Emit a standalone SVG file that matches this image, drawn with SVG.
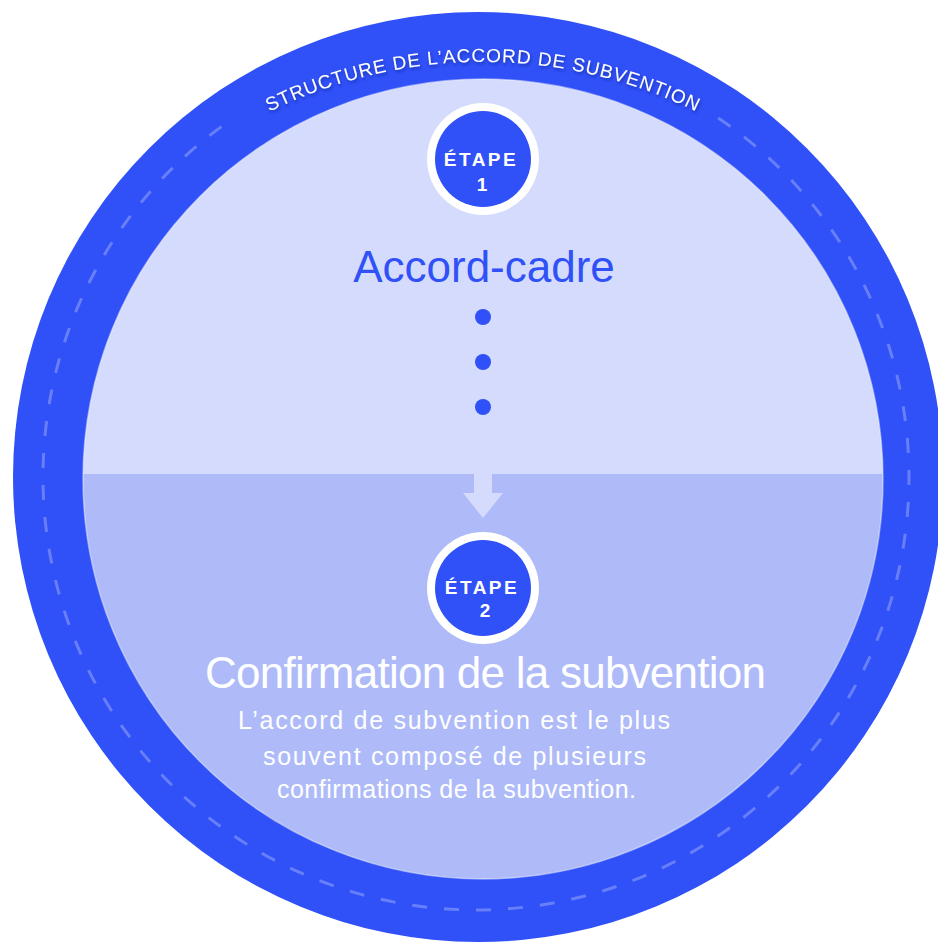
<svg xmlns="http://www.w3.org/2000/svg" width="938" height="946" viewBox="0 0 938 946">
<defs>
<clipPath id="innerClip"><circle cx="483" cy="479" r="400"/></clipPath>
<path id="titleArc" d="M 172.5 175 A 483 483 0 0 1 793.5 175" fill="none"/>
<filter id="shadow" x="-10%" y="-50%" width="120%" height="200%">
<feDropShadow dx="1" dy="2" stdDeviation="1.5" flood-color="#101c70" flood-opacity="0.55"/>
</filter>
</defs>
<style>
.ring{fill:#3050F8;}
.stepRing{fill:#ffffff;}
.stepCore{fill:#3050F8;}
.stepLbl{font-family:"Liberation Sans",Arial,sans-serif;font-weight:bold;fill:#ffffff;font-size:19px;letter-spacing:2.5px;}
.stepNum{font-family:"Liberation Sans",Arial,sans-serif;font-weight:bold;fill:#ffffff;font-size:19px;}
.title1{font-family:"Liberation Sans",Arial,sans-serif;fill:#3050F8;font-size:44px;}
.title2{font-family:"Liberation Sans",Arial,sans-serif;fill:#ffffff;font-size:44px;}
.body{font-family:"Liberation Sans",Arial,sans-serif;fill:#ffffff;font-size:25px;}
.arcTitle{font-family:"Liberation Sans",Arial,sans-serif;fill:#ffffff;font-size:19px;letter-spacing:0.9px;}
.dot{fill:#3050F8;}
</style>

<g id="background">
<circle class="ring" cx="478" cy="477" r="465"/>
<path d="M 718.2 118 A 433 433 0 1 1 233.8 118" fill="none" stroke="#ffffff" stroke-opacity="0.27" stroke-width="3" stroke-dasharray="15 17"/>
<g clip-path="url(#innerClip)">
<rect x="80" y="75" width="810" height="399" fill="#D5DBFC"/>
<rect x="80" y="474" width="810" height="410" fill="#AEBBF8"/>
</g>
<circle cx="483" cy="479" r="400" fill="none" stroke="#ffffff" stroke-opacity="0.45" stroke-width="1.5"/>
<text class="arcTitle" filter="url(#shadow)"><textPath href="#titleArc" startOffset="50%" text-anchor="middle">STRUCTURE DE L’ACCORD DE SUBVENTION</textPath></text>
</g>

<g id="connectors">
<polygon points="474,474 492,474 492,493 503,493 483,518 463,493 474,493" fill="#D5DBFC"/>
</g>

<g id="step1">
<circle class="stepRing" cx="483" cy="159" r="56"/>
<circle class="stepCore" cx="483" cy="159" r="48"/>
<text class="stepLbl" x="481" y="166" text-anchor="middle">ÉTAPE</text>
<text class="stepNum" x="482" y="191" text-anchor="middle">1</text>
</g>

<g id="accord-cadre">
<text class="title1" x="484" y="282" text-anchor="middle">Accord-cadre</text>
<circle class="dot" cx="483" cy="317" r="8"/>
<circle class="dot" cx="483" cy="362" r="8"/>
<circle class="dot" cx="483" cy="407" r="8"/>
</g>

<g id="step2">
<circle class="stepRing" cx="483" cy="588" r="56"/>
<circle class="stepCore" cx="483" cy="588" r="48"/>
<text class="stepLbl" x="482" y="594" text-anchor="middle">ÉTAPE</text>
<text class="stepNum" x="485" y="617" text-anchor="middle">2</text>
</g>

<g id="confirmation">
<text class="title2" x="485.5" y="688" text-anchor="middle" textLength="561" lengthAdjust="spacing">Confirmation de la subvention</text>
<text class="body" x="454" y="729" text-anchor="middle" textLength="432" lengthAdjust="spacing">L’accord de subvention est le plus</text>
<text class="body" x="454.5" y="765" text-anchor="middle" textLength="383" lengthAdjust="spacing">souvent composé de plusieurs</text>
<text class="body" x="456.5" y="798" text-anchor="middle" textLength="359" lengthAdjust="spacing">confirmations de la subvention.</text>
</g>
</svg>
